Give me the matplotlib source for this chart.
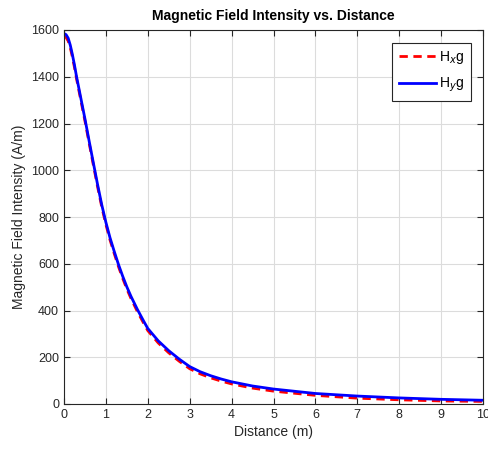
import matplotlib
matplotlib.use('Agg')
import matplotlib.pyplot as plt

plt.rcParams['font.family'] = ['Liberation Sans', 'DejaVu Sans']

# values
distance = [0, 0.05, 0.1, 0.15, 0.2, 0.25, 0.3, 0.4, 0.5, 0.6, 0.7, 0.8, 0.9,
            1.0, 1.1, 1.2, 1.3, 1.4, 1.5, 1.6, 1.75, 1.9, 2.0, 2.25, 2.5, 2.75,
            3.0, 3.25, 3.5, 3.75, 4.0, 4.5, 5.0, 6.0, 7.0, 8.0, 9.0, 10.0]
hy_g = [1585, 1580, 1565, 1535, 1495, 1450, 1400, 1310, 1220, 1125, 1032, 940,
        853, 777, 710, 652, 597, 547, 501, 460, 405, 355, 323, 270, 228, 192,
        160, 138, 121, 107, 95, 77, 64, 45, 34, 26, 20, 16]
hx_g = [1572, 1568, 1553, 1524, 1485, 1440, 1391, 1301, 1211, 1116, 1023, 931,
        844, 768, 701, 643, 588, 538, 492, 451, 396, 346, 314, 261, 219, 183,
        151, 129, 112, 98, 86, 68, 55, 37, 25, 18, 13, 11]

fig = plt.figure(figsize=(4.89, 4.5), dpi=100)
ax = fig.add_axes([64 / 489, 46 / 450, 419 / 489, 374 / 450])

ax.plot(distance, hx_g, color='#ff0000', lw=2, ls=(0, (3, 2)), label='H$_x$g')
ax.plot(distance, hy_g, color='#0000ff', lw=2, label='H$_y$g')

ax.set_xlim(0, 10)
ax.set_ylim(0, 1600)
ax.set_xticks(range(0, 11))
ax.set_yticks(range(0, 1601, 200))
ax.grid(True, color='#dcdcdc', lw=0.8)
ax.set_axisbelow(True)
ax.tick_params(direction='in', top=True, right=True, length=4, labelsize=9,
               colors='#262626')
for s in ax.spines.values():
    s.set_color('#262626')
    s.set_linewidth(0.8)

ax.set_xlabel('Distance (m)', fontsize=10, color='#262626', labelpad=3)
ax.set_ylabel('Magnetic Field Intensity (A/m)', fontsize=10, color='#262626')
ax.set_title('Magnetic Field Intensity vs. Distance', fontsize=10,
             fontweight='bold', pad=7)

leg = ax.legend(loc='upper right', fontsize=10, fancybox=False, framealpha=1,
                edgecolor='#262626', handlelength=2.7, handletextpad=0.2,
                labelspacing=0.75, borderpad=0.45, borderaxespad=0.9)
leg.get_frame().set_linewidth(0.8)

fig.savefig('out.png', dpi=100)
